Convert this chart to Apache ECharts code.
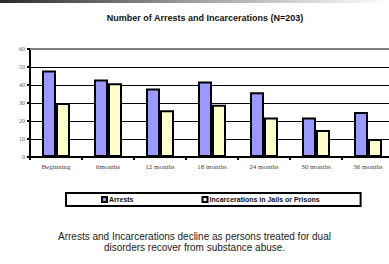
<!DOCTYPE html>
<html>
<head>
<meta charset="utf-8">
<script src="https://cdn.jsdelivr.net/npm/echarts@6/dist/echarts.min.js"></script>
<style>
  html, body { margin: 0; padding: 0; background: #fff; }
  #chart { width: 389px; height: 264px; }
</style>
</head>
<body>
<div id="chart"></div>
<script>
var categories = ['Beginning', '6months', '12 months', '18 months', '24 months', '30 months', '36 months'];
var arrests = [48, 43, 38, 42, 36, 22, 25];
var incarcerations = [30, 41, 26, 29, 22, 15, 10];
var seriesNames = ['Arrests', 'Incarcerations in Jails or Prisons'];
var yTicks = [0, 10, 20, 30, 40, 50, 60];

var chart = echarts.init(document.getElementById('chart'), null, { renderer: 'svg' });

chart.setOption({
  animation: false,
  backgroundColor: '#fff',
  title: {
    text: 'Number of Arrests and Incarcerations (N=203)',
    left: 200,
    top: 8,
    textAlign: 'center',
    textStyle: { fontFamily: 'Liberation Sans', fontSize: 9, fontWeight: 'bold', color: '#111' }
  },
  graphic: [
    {
      type: 'rect',
      shape: { x: 0, y: 0, width: 389, height: 3 },
      style: {
        fill: new echarts.graphic.LinearGradient(0, 0, 1, 0, [
          { offset: 0, color: '#2a2a2a' },
          { offset: 0.5, color: '#a0a0a0' },
          { offset: 1, color: '#ffffff' }
        ])
      }
    },
    {
      type: 'text',
      x: 194.5,
      y: 231,
      style: {
        text: 'Arrests and Incarcerations decline as persons treated for dual\ndisorders recover from substance abuse.',
        fontFamily: 'Liberation Sans',
        fontSize: 10,
        lineHeight: 11,
        fill: '#222',
        align: 'center',
        verticalAlign: 'top'
      }
    }
  ],
  legend: {
    data: seriesNames,
    left: 66,
    top: 193,
    padding: [3, 41, 3, 35],
    itemGap: 68,
    itemWidth: 5,
    itemHeight: 5,
    icon: 'rect',
    borderColor: '#000',
    borderWidth: 2,
    textStyle: { fontFamily: 'Liberation Sans', fontSize: 7, fontWeight: 'bold', color: '#111', padding: [0, 0, 0, -3] }
  },
  grid: { left: 30, right: -5, top: 49, bottom: 107, outerBoundsMode: 'none' },
  xAxis: [
    {
      type: 'category',
      data: categories,
      axisLine: { lineStyle: { color: '#000', width: 2 } },
      axisTick: { show: true, length: 3, lineStyle: { color: '#000', width: 2 } },
      axisLabel: { fontFamily: 'Liberation Serif', fontSize: 7, color: '#444', margin: 6 }
    },
    {
      type: 'category',
      position: 'top',
      data: categories,
      axisLine: { lineStyle: { color: '#808080', width: 2 } },
      axisTick: { show: false },
      axisLabel: { show: false }
    }
  ],
  yAxis: {
    type: 'value',
    min: 0,
    max: 60,
    interval: 10,
    axisLine: { show: true, lineStyle: { color: '#000', width: 2 } },
    axisTick: { show: true, length: 3, lineStyle: { color: '#000', width: 2 } },
    splitLine: { lineStyle: { color: '#000', width: 1 } },
    axisLabel: {
      fontFamily: 'Liberation Serif', fontSize: 6, color: '#666', margin: 5,
      formatter: function (v) { return yTicks.indexOf(v) >= 0 ? String(v) : ''; }
    }
  },
  series: [
    {
      name: seriesNames[0],
      type: 'bar',
      data: arrests,
      barWidth: 14,
      barGap: '0%',
      itemStyle: { color: '#9999ff', borderColor: '#000', borderWidth: 2 }
    },
    {
      name: seriesNames[1],
      type: 'bar',
      data: incarcerations,
      barWidth: 14,
      itemStyle: { color: '#ffffcc', borderColor: '#000', borderWidth: 2 }
    }
  ]
});

window.addEventListener('resize', function () { chart.resize(); });
</script>
</body>
</html>
